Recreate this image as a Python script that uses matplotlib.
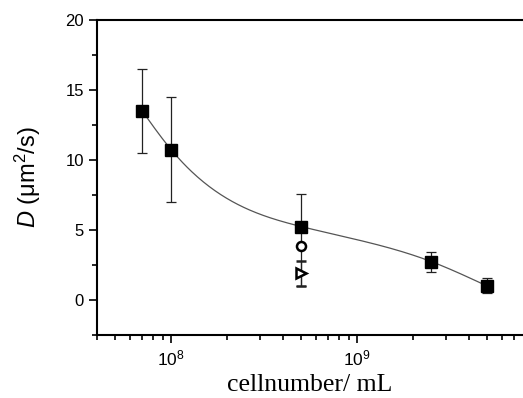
import numpy as np
import matplotlib
matplotlib.use("Agg")
import matplotlib.pyplot as plt

plt.rcParams['font.family'] = ['Liberation Sans', 'DejaVu Sans']
plt.rcParams['mathtext.fontset'] = 'custom'
plt.rcParams['mathtext.rm'] = 'Liberation Sans'
plt.rcParams['mathtext.it'] = 'Liberation Sans:italic'
plt.rcParams['mathtext.default'] = 'regular'

# data
cells = [7e7, 1e8, 5e8, 2.5e9, 5e9]
D = [13.5, 10.75, 5.25, 2.75, 1.0]
D_lo = [10.5, 7.0, 1.0, 2.0, 0.5]
D_hi = [16.5, 14.5, 7.6, 3.4, 1.55]

circ_x = [5e8]
circ_y = [3.85]
tri_x = [5e8]
tri_y = [1.95]
tri_lo = [1.0]
tri_hi = [2.8]

xticks = [1e8, 1e9]
xticklabels = ['$10^{8}$', '$10^{9}$']
yticks = [0, 5, 10, 15, 20]


def natural_spline(x, y, xs):
    x = np.asarray(x, float); y = np.asarray(y, float)
    n = len(x)
    h = np.diff(x)
    A = np.zeros((n, n)); b = np.zeros(n)
    A[0, 0] = 1; A[-1, -1] = 1
    for i in range(1, n - 1):
        A[i, i - 1] = h[i - 1]
        A[i, i] = 2 * (h[i - 1] + h[i])
        A[i, i + 1] = h[i]
        b[i] = 3 * ((y[i + 1] - y[i]) / h[i] - (y[i] - y[i - 1]) / h[i - 1])
    c = np.linalg.solve(A, b)
    out = np.empty_like(xs)
    for k, xv in enumerate(xs):
        i = min(max(np.searchsorted(x, xv) - 1, 0), n - 2)
        bb = (y[i + 1] - y[i]) / h[i] - h[i] * (2 * c[i] + c[i + 1]) / 3
        d = (c[i + 1] - c[i]) / (3 * h[i])
        t = xv - x[i]
        out[k] = y[i] + bb * t + c[i] * t ** 2 + d * t ** 3
    return out


fig = plt.figure(figsize=(5.23, 3.98), dpi=100)
ax = fig.add_axes([97 / 523, 63 / 398, 1 - 97 / 523, 315 / 398])
ax.set_xscale('log')

lx = np.log10(cells)
xs = np.linspace(lx[0], lx[-1], 300)
ys = natural_spline(lx, D, xs)
ax.plot(10 ** xs, ys, color='#555555', lw=0.9, zorder=2)

yerr = [np.array(D) - np.array(D_lo), np.array(D_hi) - np.array(D)]
ax.errorbar(cells, D, yerr=yerr, fmt='s', color='black', ms=8.5, ecolor='#222222',
            elinewidth=0.9, capsize=3.5, capthick=0.9, zorder=3)
terr = [np.array(tri_y) - np.array(tri_lo), np.array(tri_hi) - np.array(tri_y)]
ax.errorbar(tri_x, tri_y, yerr=terr, fmt='>', mfc='white', mec='black', mew=1.8,
            ms=7, ecolor='#222222', elinewidth=0.9, capsize=3.5, capthick=0.9, zorder=3)
ax.plot(circ_x, circ_y, 'o', mfc='white', mec='black', mew=1.8, ms=6.5, zorder=4)

ax.set_xlim(4e7, 7.8e9)
ax.set_ylim(-2.5, 20)
ax.set_yticks(yticks)
ax.set_yticks(np.arange(-2.5, 20.1, 2.5), minor=True)
ax.set_xticks(xticks)
ax.set_xticklabels(xticklabels)
ax.xaxis.set_minor_locator(matplotlib.ticker.LogLocator(base=10, subs=np.arange(2, 10)))
ax.xaxis.set_minor_formatter(matplotlib.ticker.NullFormatter())

for s in ['left', 'bottom', 'top']:
    ax.spines[s].set_linewidth(1.5)
ax.spines['right'].set_visible(False)
ax.tick_params(which='major', direction='out', length=6, width=1.2, labelsize=12)
ax.tick_params(axis='x', which='major', labelsize=12.5)
ax.tick_params(which='minor', direction='out', length=3.5, width=1.2)
ax.tick_params(axis='x', which='both', top=False)

ax.set_xlabel('cellnumber/ mL', family=['Liberation Serif'], fontsize=18.5, labelpad=4)
ax.set_ylabel('$\\mathit{D}$ (μm$^{2}$/s)', fontsize=17, labelpad=16)

fig.savefig('out.png', dpi=100)
